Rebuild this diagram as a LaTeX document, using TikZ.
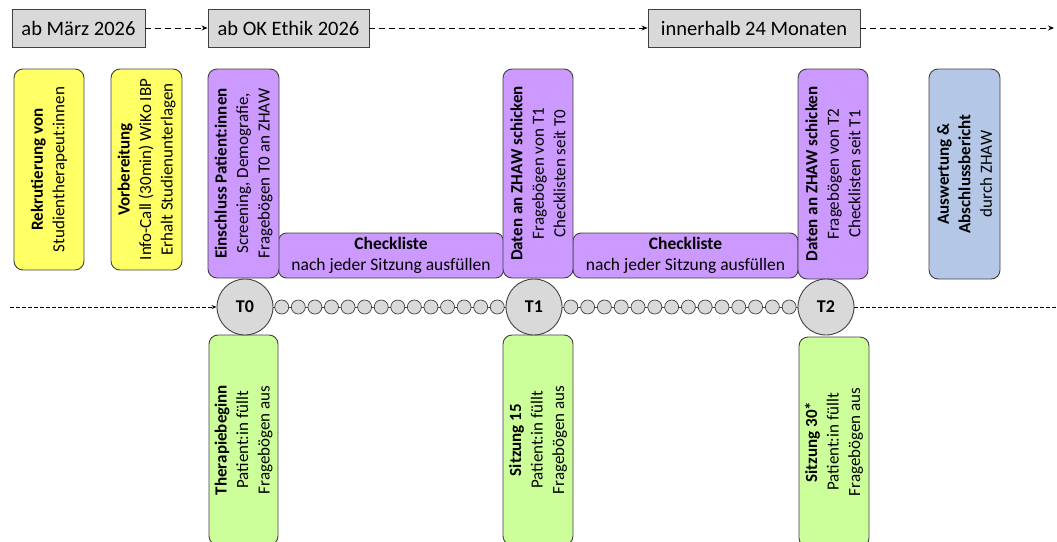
\documentclass[tikz,border=0pt]{standalone}
\usepackage{fontspec}
\setmainfont{Carlito}
\usetikzlibrary{arrows.meta,calc}
\definecolor{bord}{HTML}{404040}
\definecolor{grayfill}{HTML}{D9D9D9}
\definecolor{yel}{HTML}{FFFF66}
\definecolor{purp}{HTML}{CC99FF}
\definecolor{grn}{HTML}{CCFF99}
\definecolor{blu}{HTML}{B4C7E7}
\begin{document}
\begin{tikzpicture}[x=1pt,y=-1pt,
  topbox/.style={draw=bord, fill=grayfill, line width=0.9pt, minimum height=38pt, inner sep=0pt, font=\fontsize{20.5}{24}\selectfont},
  vbox/.style={draw=bord, line width=0.9pt, rounded corners=9pt, rotate=90, align=center, inner sep=0pt, font=\fontsize{17}{21.5}\selectfont},
  hbox/.style={draw=bord, line width=0.9pt, rounded corners=8pt, align=center, inner sep=0pt, font=\fontsize{17.5}{21.5}\selectfont},
  bigcirc/.style={circle, draw=bord, fill=grayfill, line width=0.9pt, minimum size=56pt, inner sep=0pt, font=\fontsize{18}{20}\selectfont\bfseries},
  smallcirc/.style={circle, draw=bord, fill=grayfill, line width=0.7pt, minimum size=14pt, inner sep=0pt},
  dasharrow/.style={draw=black, line width=1pt, dash pattern=on 6pt off 4pt, -{Stealth[length=6pt,width=5pt]}},
  dashsmall/.style={draw=black, line width=0.9pt, dash pattern=on 4pt off 2pt},
  chainline/.style={draw=bord, line width=0.9pt}
]
\useasboundingbox (0,0) rectangle (1057,541);
\clip (0,0) rectangle (1057,541);

% top timeline
\node[topbox, minimum width=133pt] (m) at (78.5,28) {ab März 2026};
\node[topbox, minimum width=161pt] (e) at (288.5,28) {ab OK Ethik 2026};
\node[topbox, minimum width=212pt] (i) at (754,28) {innerhalb 24 Monaten};
\coordinate (topend) at (1054,28);
\draw[dasharrow] (m) -- (e);
\draw[dasharrow] (e) -- (i);
\draw[dasharrow] (i) -- (topend);

% yellow boxes
\node[vbox, fill=yel, minimum width=201pt, minimum height=70pt] (rek) at (49,169.5) {\textbf{Rekrutierung von}\\Studientherapeut:innen};
\node[vbox, fill=yel, minimum width=201pt, minimum height=71pt] (vor) at (146.5,169.5) {\textbf{Vorbereitung}\\Info-Call (30min) WiKo IBP\\Erhalt Studienunterlagen};

% purple
\node[hbox, fill=purp, minimum width=225pt, minimum height=45pt] (c1) at (391,255.5) {\textbf{Checkliste}\\nach jeder Sitzung ausfüllen};
\node[hbox, fill=purp, minimum width=225pt, minimum height=45pt] (c2) at (685.5,255.5) {\textbf{Checkliste}\\nach jeder Sitzung ausfüllen};
\node[vbox, fill=purp, minimum width=209pt, minimum height=71pt] (ein) at (243.5,173.5) {\textbf{Einschluss Patient:innen}\\Screening, Demografie,\\Fragebögen T0 an ZHAW};
\node[vbox, fill=purp, minimum width=209pt, minimum height=70pt] (d1) at (538,173.5) {\textbf{Daten an ZHAW schicken}\\Fragebögen von T1\\Checklisten seit T0};
\node[vbox, fill=purp, minimum width=210pt, minimum height=70pt] (d2) at (833,174) {\textbf{Daten an ZHAW schicken}\\Fragebögen von T2\\Checklisten seit T1};

% blue
\node[vbox, fill=blu, minimum width=210pt, minimum height=71pt] (aus) at (964.5,174) {\textbf{Auswertung \&}\\\textbf{Abschlussbericht}\\durch ZHAW};

% green
\node[vbox, fill=grn, minimum width=210pt, minimum height=69pt] (g0) at (243.5,440) {\textbf{Therapiebeginn}\\Patient:in füllt\\Fragebögen aus};
\node[vbox, fill=grn, minimum width=210pt, minimum height=70pt] (g1) at (538,440) {\textbf{Sitzung 15}\\Patient:in füllt\\Fragebögen aus};
\node[vbox, fill=grn, minimum width=210pt, minimum height=70pt] (g2) at (834,442) {\textbf{Sitzung 30*}\\Patient:in füllt\\Fragebögen aus};

% timeline circles
\node[bigcirc] (T0) at (245,307) {T0};
\node[bigcirc] (T1) at (534,307) {T1};
\node[bigcirc] (T2) at (826,307) {T2};

\draw[chainline] (T0) -- (T1);
\draw[chainline] (T1) -- (T2);
\foreach \k in {0,...,13} {
  \node[smallcirc] (a\k) at ($(T0.east)!{(\k+0.5)/14}!(T1.west)$) {};
  \node[smallcirc] (b\k) at ($(T1.east)!{(\k+0.5)/14}!(T2.west)$) {};
}

\coordinate (lstart) at (10,307);
\coordinate (rend) at (1057,307);
\draw[dashsmall, -{Stealth[length=5pt,width=4pt]}] (lstart) -- (T0);
\draw[dashsmall] (T2) -- (rend);
\end{tikzpicture}
\end{document}
